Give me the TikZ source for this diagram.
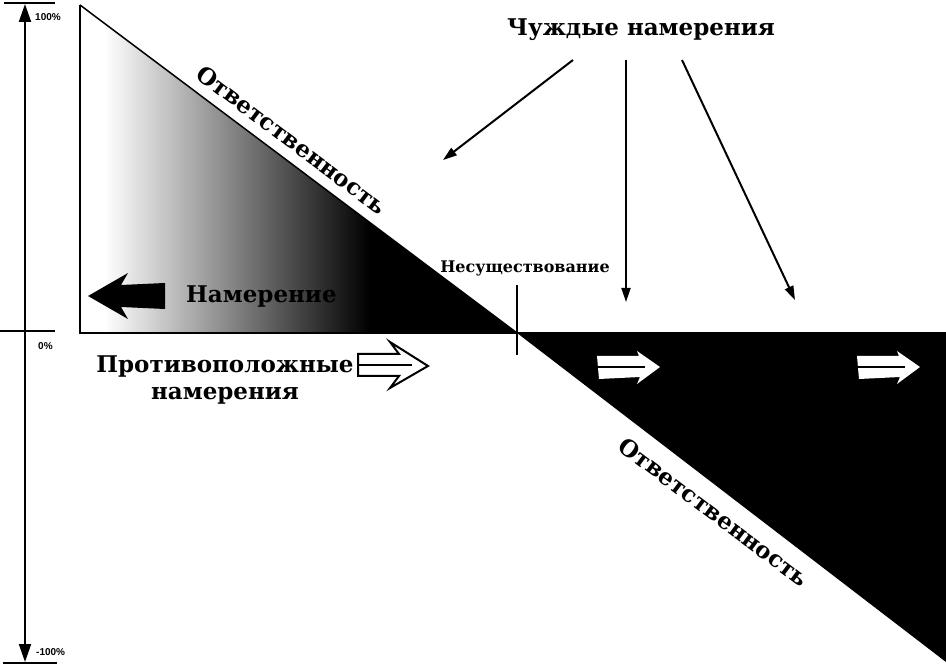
\documentclass[tikz,border=0pt]{standalone}
\usepackage{fontspec}
\setmainfont{DejaVu Serif}
\newfontfamily\lblfont{Liberation Sans}
\usetikzlibrary{arrows.meta}
\begin{document}
\begin{tikzpicture}[x=1pt,y=-1pt,
  bigtext/.style={font=\bfseries\fontsize{23}{27}\selectfont, inner sep=0pt, align=center},
  midtext/.style={font=\bfseries\fontsize{16}{18}\selectfont, inner sep=0pt},
  pcttext/.style={font=\lblfont\bfseries\fontsize{10}{11}\selectfont, inner sep=0pt},
  axisline/.style={line width=1.6pt},
  thinarrow/.style={line width=2pt, -{Triangle[length=14pt,width=9pt]}},
  axisarrow/.style={line width=2pt, {Triangle[length=18pt,width=12pt]}-{Triangle[length=18pt,width=12pt]}}
]
\useasboundingbox (0,0) rectangle (946,668);
% coordinates
\coordinate (tl) at (80,5);
\coordinate (bl) at (80,333);
\coordinate (o) at (517,333);
\coordinate (br) at (946,333);
\coordinate (brb) at (946,662);
% upper shaded triangle
\begin{scope}
  \clip (tl) -- (bl) -- (o) -- cycle;
  \fill[black] (tl) -- (bl) -- (o) -- cycle;
  \fill[white] (80,5) rectangle (105,333);
  \shade[left color=white, right color=black] (104,5) rectangle (370,333);
\end{scope}
\draw[line width=1.5pt] (tl) -- (bl) -- (br);
\draw[line width=1.5pt] (tl) -- (o);
% lower black triangle
\fill[black] (o) -- (br) -- (brb) -- cycle;
% vertical tick at origin
\draw[line width=1.5pt] (517,285) -- (517,355);
% left axis
\coordinate (atop) at (25,4);
\coordinate (abot) at (25,662);
\draw[axisarrow] (abot) -- (atop);
\draw[axisline] (4,3) -- (55,3);
\draw[axisline] (3,663) -- (57,663);
\draw[axisline] (0,331) -- (55,331);
\node[pcttext, anchor=west] (p100) at (35,17) {100\%};
\node[pcttext, anchor=west] (p0) at (38,346) {0\%};
\node[pcttext, anchor=west] (pm100) at (36,652) {-100\%};
% Intention arrow (black, pointing left)
\fill[black] (88,296) -- (128,273) -- (121,285) -- (165,283) -- (165,309) -- (121,307) -- (128,319) -- cycle;
\node[bigtext, anchor=west] (intent) at (186,297) {Намерение};
% labels
\node[bigtext, rotate=-36.9] (resp1) at (292,140) {Ответственность};
\node[bigtext, rotate=-36.9] (resp2) at (714,512) {Ответственность};
\node[midtext] (nonex) at (525,268) {Несуществование};
\node[bigtext] (alien) at (641,30) {Чуждые намерения};
\node[bigtext] (opp) at (225,380) {Противоположные\\намерения};
% arrows from alien intentions
\coordinate (a1) at (443,160);
\coordinate (a2) at (626,302);
\coordinate (a3) at (795,300);
\draw[thinarrow] (573,60) -- (a1);
\draw[thinarrow] (626,60) -- (a2);
\draw[thinarrow] (682,60) -- (a3);
% hollow double arrow
\draw[line width=2pt, fill=white, line join=miter] (358,354) -- (399,354) -- (390,342) -- (428,366) -- (390,388) -- (399,376) -- (358,376) -- cycle;
\draw[line width=2pt] (358,365) -- (412,365);
% white double arrows on black
\foreach \x in {597,857}{
  \fill[white] (\x,356) -- (\x+42,356) -- (\x+40,351) -- (\x+63,367) -- (\x+40,384) -- (\x+43,377) -- (\x+2,379) -- cycle;
  \draw[black, line width=2pt] (\x,367) -- (\x+48,367);
}
\end{tikzpicture}
\end{document}
